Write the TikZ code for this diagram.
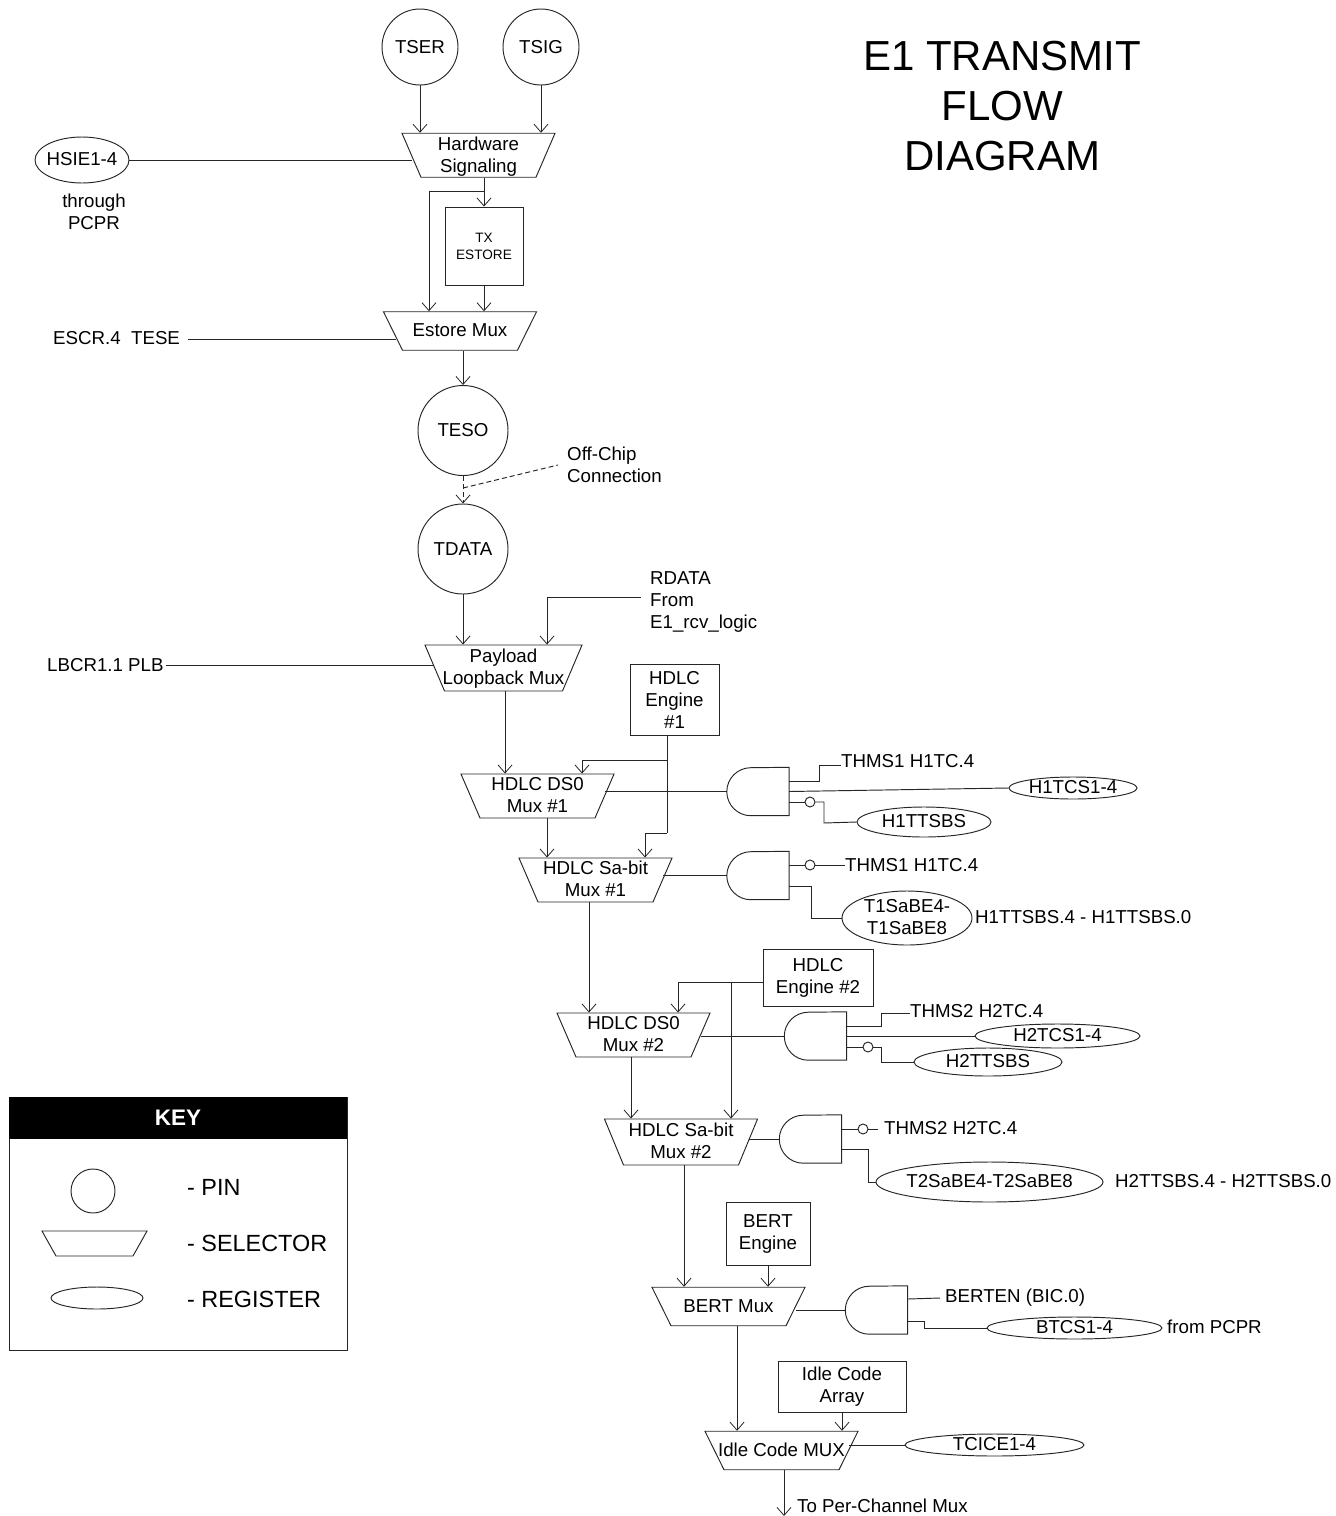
\documentclass[tikz,border=0pt]{standalone}
\usepackage{fontspec}
\setmainfont{Liberation Sans}
\usetikzlibrary{arrows.meta,calc,shapes.geometric}
\newcommand{\ztext}[1]{\rule{0pt}{1pt}\makebox[1pt]{\smash{\makebox[0pt]{\raisebox{-5.4pt}{\begin{tabular}{@{}c@{}}#1\end{tabular}}}}}}
\newcommand{\gatepin}[3]{%
  \node[gatebox] (#1) at (#2,#3) {};
  \draw[wire] (#1.north east) -- (#1.south east) -- ($(#1.south west)+(24,0)$)
    arc[start angle=270,end angle=90,radius=24pt] -- cycle;}
\tikzset{
  wire/.style={line width=0.95pt,draw=black!85,line join=miter},
  arr/.style={wire,-{Straight Barb[length=8pt,width=14pt,line width=0.8pt]}},
  dash1/.style={wire,dash pattern=on 5pt off 3pt},
  txt/.style={font=\fontsize{18.7}{22}\selectfont,inner sep=0pt,text=black},
  lab/.style={txt,anchor=west,text height=13.2pt,text depth=0pt},
  mlab/.style={txt,align=left,anchor=north west,text height=13.2pt,text depth=4pt},
  pin/.style={circle,draw=black!85,line width=0.95pt,txt,minimum size=90pt},
  pinsmall/.style={pin,minimum size=76pt},
  box/.style={rectangle,draw=black!85,line width=0.95pt,txt,align=center},
  gatebox/.style={rectangle,minimum width=62pt,minimum height=48pt,inner sep=0pt},
  reg/.style={ellipse,draw=black!85,line width=0.95pt,txt},
  mux/.style={trapezium,trapezium stretches=true,shape border rotate=180,draw=black!85,line width=0.95pt,txt,
     minimum width=153pt,minimum height=44pt,trapezium angle=80.6},
  muxs/.style={mux,minimum height=38.5pt},
  bub/.style={circle,draw=black!85,line width=0.95pt,fill=white,minimum size=10pt,inner sep=0pt},
}
\begin{document}
\begin{tikzpicture}[x=1pt,y=-1pt]
\useasboundingbox (0,0) rectangle (1336,1516);
% x helpers
\foreach \v in {420,429,463,505,547,582,589,631,645,667,678,684,731,737,768,784,842}{\coordinate (x\v) at (\v,0);}
% pins
\node[pinsmall] (tser) at (420,47) {TSER};
\node[pinsmall] (tsig) at (541,47) {TSIG};
\node[pin] (teso) at (463,430.5) {TESO};
\node[pin] (tdata) at (463,549) {TDATA};
% muxes
\node[mux] (hw) at (478.5,155.25) {\ztext{Hardware\\Signaling}};
\node[muxs] (est) at (460,331) {\ztext{Estore Mux}};
\node[mux,minimum width=157pt,minimum height=46pt] (pay) at (503.5,668) {\ztext{Payload\\Loopback Mux}};
\node[mux] (ds1) at (537.5,796) {\ztext{HDLC DS0\\Mux \#1}};
\node[mux] (sa1) at (595.5,880) {\ztext{HDLC Sa-bit\\Mux \#1}};
\node[mux] (ds2) at (633.5,1035) {\ztext{HDLC DS0\\Mux \#2}};
\node[mux,minimum height=46pt] (sa2) at (681,1142) {\ztext{HDLC Sa-bit\\Mux \#2}};
\node[muxs] (bert) at (728.5,1306.5) {\ztext{BERT Mux}};
\node[muxs] (idle) at (781.5,1450.5) {\ztext{Idle Code MUX}};
% boxes
\node[box,minimum width=78pt,minimum height=78pt,font=\fontsize{13.6}{17}\selectfont] (txe) at (484,246) {TX\\ESTORE};
\node[box,minimum width=89pt,minimum height=71pt] (eng1) at (674.5,699.5) {HDLC\\Engine\\\#1};
\node[box,minimum width=110pt,minimum height=57pt] (eng2) at (818,977.5) {HDLC\\Engine \#2};
\node[box,minimum width=84pt,minimum height=63pt] (bertE) at (768,1233.5) {BERT\\Engine};
\node[box,minimum width=128pt,minimum height=51pt] (arr1) at (842,1386.5) {Idle Code\\Array};
% registers
\node[reg,minimum width=94pt,minimum height=46pt] (hsie) at (82,160) {\ztext{HSIE1-4}};
\node[reg,minimum width=128pt,minimum height=22pt] (h1tcs) at (1073,788) {\ztext{H1TCS1-4}};
\node[reg,minimum width=134pt,minimum height=30pt] (h1tt) at (924,822) {\ztext{H1TTSBS}};
\node[reg,minimum width=130pt,minimum height=54pt] (t1sa) at (907,918) {\ztext{T1SaBE4-\\T1SaBE8}};
\node[reg,minimum width=165pt,minimum height=24pt] (h2tcs) at (1057.5,1036) {\ztext{H2TCS1-4}};
\node[reg,minimum width=148pt,minimum height=28pt] (h2tt) at (988,1062) {\ztext{H2TTSBS}};
\node[reg,minimum width=227pt,minimum height=40pt] (t2sa) at (989.5,1182) {\ztext{T2SaBE4-T2SaBE8}};
\node[reg,minimum width=175pt,minimum height=22pt] (btcs) at (1074.5,1328) {\ztext{BTCS1-4}};
\node[reg,minimum width=179pt,minimum height=22pt] (tcice) at (994.5,1445) {\ztext{TCICE1-4}};
% gates
\gatepin{g1}{758}{791.5}
\gatepin{g2}{758}{875.5}
\gatepin{g3}{815.5}{1036}
\gatepin{g4}{810.5}{1139}
\gatepin{g5}{876.5}{1310}
% bubbles
\node[bub] (b1) at (810,802) {};
\node[bub] (b2) at (810,865) {};
\node[bub] (b3) at (868,1047) {};
\node[bub] (b4) at (863,1129) {};
% texts
\node[txt,font=\fontsize{42}{50}\selectfont,align=center] (title) at (1002,106) {E1 TRANSMIT\\FLOW\\DIAGRAM};
\node[mlab,anchor=north,align=center] (thru) at (94,216) {through\\PCPR};
\node[lab] (esc) at (53,338) {ESCR.4\ \ TESE};
\node[lab] (lbc) at (47,665) {LBCR1.1 PLB};
\node[mlab] (off) at (567,469) {Off-Chip\\Connection};
\node[mlab] (rd) at (650,615) {RDATA\\From\\E1\_rcv\_logic};
\node[lab] (thm1) at (841,761) {THMS1 H1TC.4};
\node[lab] (thm2) at (845,865) {THMS1 H1TC.4};
\node[lab] (t1t) at (975,917) {H1TTSBS.4 - H1TTSBS.0};
\node[lab] (thm3) at (910,1011) {THMS2 H2TC.4};
\node[lab] (thm4) at (884,1128) {THMS2 H2TC.4};
\node[lab] (t2t) at (1115,1181) {H2TTSBS.4 - H2TTSBS.0};
\node[lab] (berten) at (945,1296) {BERTEN (BIC.0)};
\node[lab] (fromp) at (1167,1327) {from PCPR};
\node[lab] (toper) at (797,1506) {To Per-Channel Mux};
% connectors top
\draw[arr] (tser.south) -- (tser.south |- hw.north);
\draw[arr] (tsig.south) -- (tsig.south |- hw.north);
\draw[wire] (hsie.east) -- ($(hsie.east -| hw.west)+(1.5,0)$);
\draw[arr] (hw.south -| txe.north) -- (txe.north);
\coordinate (j1) at (484,191);
\draw[arr] (j1) -| (est.north -| x429);
\draw[arr] (txe.south) -- (est.north -| txe.south);
\draw[arr] (est.south -| teso.north) -- (teso.north);
\coordinate (e1) at (188,339);
\draw[wire] (e1) -- ($(e1 -| est.west)+(4,0)$);
\draw[arr,dash1] (teso.south) -- (tdata.north);
\coordinate (offp) at (558,465);
\coordinate (offj) at (463,488);
\draw[dash1] (offj) -- (offp);
\draw[arr] (tdata.south) -- (tdata.south |- pay.north);
\coordinate (rdj) at (641,597);
\draw[arr] (rdj) -| (pay.north -| x547);
\draw[wire] ($(lbc.east)+(2,0)$) -- (lbc.east -| pay.west);
\draw[arr] (pay.south -| x505) -- (ds1.north -| x505);
% HDLC1
\coordinate (j2) at (667,760);
\coordinate (j2b) at (667,833);
\draw[wire] (eng1.south -| j2) -- (j2b);
\draw[arr] (j2b) -| (sa1.north -| x645);
\draw[arr] (j2) -| (ds1.north -| x582);
\draw[arr] (ds1.south -| x547) -- (sa1.north -| x547);
\draw[wire] (ds1.east |- g1.west) -- (g1.west);
\draw[wire] ($(g1.east)+(0,-10.5)$) -| (819,765) -- (thm1.west |- 819,765);
\draw[wire] (g1.east) -- (h1tcs.west);
\draw[wire] ($(g1.east)+(0,10.5)$) -- (b1.west);
\draw[wire] (b1.east) -| (824,823) -- (h1tt.west);
\draw[wire] (sa1.east |- g2.west) -- (g2.west);
\draw[wire] ($(g2.east)+(0,-10.5)$) -- (b2.west);
\draw[wire] (b2.east) -- (thm2.west);
\draw[wire] ($(g2.east)+(0,10.5)$) -| (811,918) -- (t1sa.west);
% HDLC2
\draw[arr] (sa1.south -| x589) -- (ds2.north -| x589);
\coordinate (j3) at (731,982);
\draw[arr] (eng2.west |- j3) -| (ds2.north -| x678);
\draw[arr] (j3) -- (sa2.north -| x731);
\draw[arr] (ds2.south -| x631) -- (sa2.north -| x631);
\draw[wire] (ds2.east |- g3.west) -- (g3.west);
\draw[wire] ($(g3.east)+(0,-10)$) -| (881,1013) -- (thm3.west |- 881,1013);
\draw[wire] (g3.east) -- (h2tcs.west);
\draw[wire] ($(g3.east)+(0,11)$) -- (b3.west);
\draw[wire] (b3.east) -| (881,1062) -- (h2tt.west);
\draw[wire] (sa2.east |- g4.west) -- (g4.west);
\draw[wire] ($(g4.east)+(0,-10)$) -- (b4.west);
\draw[wire] (b4.east) -- (878,1129);
\draw[wire] ($(g4.east)+(0,10)$) -| (868,1182) -- (t2sa.west);
% BERT
\draw[arr] (sa2.south -| x684) -- (bert.north -| x684);
\draw[arr] (bertE.south) -- (bert.north -| bertE.south);
\draw[wire] (bert.east |- g5.west) -- (g5.west);
\draw[wire] ($(g5.east)+(0,-11)$) -- (940,1298);
\draw[wire] ($(g5.east)+(0,11)$) -| (924,1328) -- (btcs.west);
\draw[arr] (bert.south -| x737) -- (idle.north -| x737);
\draw[arr] (arr1.south) -- (idle.north -| arr1.south);
\draw[wire] (idle.east |- tcice.west) -- (tcice.west);
\coordinate (endp) at (784,1516);
\draw[arr] (idle.south -| endp) -- (endp);
% KEY
\node[rectangle,draw=black!85,line width=0.95pt,minimum width=338pt,minimum height=253pt] (keyb) at (178,1223.5) {};
\node[rectangle,fill=black,minimum width=338pt,minimum height=42pt,text=white,font=\fontsize{22.5}{24}\selectfont\bfseries] (keyh) at (178,1118) {KEY};
\node[circle,draw=black!85,line width=0.95pt,minimum size=44pt,inner sep=0pt] (kpin) at (93,1191) {};
\node[mux,minimum width=105pt,minimum height=25pt,trapezium angle=79.7] (kmux) at (94.5,1243.5) {\ztext{}};
\node[ellipse,draw=black!85,line width=0.95pt,minimum width=92pt,minimum height=22pt,inner sep=0pt] (kreg) at (97,1298) {};
\node[lab,font=\fontsize{23.4}{26}\selectfont,text height=16.5pt] (kt1) at (187,1187) {- PIN};
\node[lab,font=\fontsize{23.4}{26}\selectfont,text height=16.5pt] (kt2) at (187,1243) {- SELECTOR};
\node[lab,font=\fontsize{23.4}{26}\selectfont,text height=16.5pt] (kt3) at (187,1299) {- REGISTER};
\end{tikzpicture}
\end{document}
